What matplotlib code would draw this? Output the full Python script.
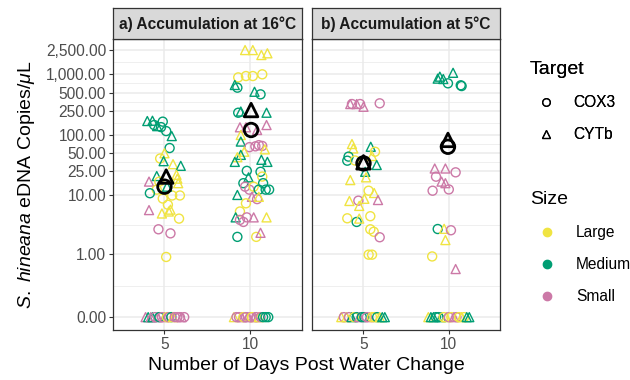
import numpy as np
import matplotlib
matplotlib.use("Agg")
import matplotlib.pyplot as plt
from matplotlib.lines import Line2D
from matplotlib.ticker import FixedLocator, NullLocator

plt.rcParams['font.family'] = ['Liberation Sans', 'DejaVu Sans']
plt.rcParams['mathtext.fontset'] = 'custom'
plt.rcParams['mathtext.rm'] = 'Liberation Sans'
plt.rcParams['mathtext.it'] = 'Liberation Sans:italic'

# ---------------- data ----------------
days = ['5', '10']
panel_titles = ['a) Accumulation at 16°C', 'b) Accumulation at 5°C']
y_breaks = [0, 1, 10, 25, 50, 100, 250, 500, 1000, 2500]
y_labels = ['0.00', '1.00', '10.00', '25.00', '50.00', '100.00', '250.00',
            '500.00', '1,000.00', '2,500.00']
size_colors = {'L': '#F0E442', 'M': '#009E73', 'S': '#CC79A7'}
size_names = ['Large', 'Medium', 'Small']
target_markers = {'C': 'o', 'T': '^'}
target_names = ['COX3', 'CYTb']

# panel a, day 5
a5_value = [170, 172, 140, 146, 166, 135, 116, 96, 61, 50, 41, 37, 33, 31, 22, 19, 16,
            17, 21, 17, 12.5, 10.9, 10, 10, 8.9, 7.0, 5.0, 5.4, 5.8, 4.1, 5.7, 2.7, 2.3, 0.88, 14]
a5_jitter = [-0.20, -0.14, -0.085, -0.12, -0.02, -0.04, 0.02, 0.085, 0.06, 0.0, -0.05, -0.01, 0.10, 0.19, 0.14, 0.15, 0.16,
             -0.18, -0.09, -0.06, -0.09, -0.17, 0.09, 0.18, -0.02, 0.04, -0.03, 0.05, 0.07, 0.17, -0.18, -0.07, 0.07, 0.02, 0.03]
a5_target = ['T', 'T', 'T', 'C', 'C', 'C', 'C', 'T', 'C', 'T', 'C', 'T', 'T', 'T', 'T', 'T', 'T',
             'T', 'T', 'C', 'C', 'C', 'C', 'C', 'C', 'C', 'T', 'T', 'T', 'C', 'T', 'C', 'C', 'C', 'T']
a5_size = ['M', 'M', 'M', 'M', 'M', 'M', 'M', 'M', 'M', 'L', 'L', 'M', 'L', 'M', 'L', 'L', 'L',
           'S', 'M', 'L', 'L', 'M', 'L', 'L', 'L', 'L', 'L', 'L', 'L', 'L', 'S', 'S', 'S', 'L', 'M']
a5_zero_jitter = [-0.22, -0.19, -0.16, -0.14, -0.11, -0.08, -0.06, -0.03, 0.0, 0.03, 0.05, 0.08, 0.10, 0.12, 0.15, 0.18, 0.20, 0.23]
a5_zero_target = ['T', 'T', 'T', 'T', 'C', 'T', 'C', 'C', 'T', 'C', 'C', 'C', 'T', 'C', 'C', 'C', 'T', 'C']
a5_zero_size = ['S', 'M', 'S', 'M', 'S', 'S', 'M', 'S', 'S', 'L', 'S', 'M', 'L', 'S', 'S', 'S', 'S', 'S']

# panel a, day 10
a10_value = [2510, 2510, 2080, 2220, 890, 937, 937, 1000, 667, 603, 516, 468, 233, 244, 233,
             134, 134, 121, 146, 100, 78, 63, 65, 68, 66, 58, 53, 47, 43, 36, 39, 36,
             25.6, 24.7, 20, 20.6, 16, 16, 14, 12.5, 14, 12.5, 12.5, 12.5, 9.5, 8.7, 9.5,
             10.2, 7.4, 5.4, 4.3, 3.9, 3.6, 4.3, 4.3, 4.3, 2.0, 2.0, 2.35]
a10_jitter = [-0.06, 0.03, 0.13, 0.20, -0.14, -0.05, 0.03, 0.14, -0.18, -0.15, 0.05, 0.12, -0.14, -0.11, 0.19,
              -0.12, -0.05, 0.08, 0.19, -0.11, -0.11, -0.01, 0.06, 0.10, 0.14, 0.17, -0.07, -0.11, -0.15, -0.18, 0.13, 0.20,
              -0.04, 0.12, -0.02, 0.14, -0.08, 0.15, -0.06, -0.01, 0.04, 0.10, 0.18, 0.22, 0.02, 0.08, 0.10,
              -0.15, -0.05, -0.12, -0.17, -0.12, -0.08, 0.04, -0.04, 0.19, -0.15, 0.07, 0.12]
a10_target = ['T', 'T', 'T', 'T', 'C', 'C', 'C', 'C', 'T', 'C', 'T', 'C', 'C', 'T', 'T',
              'T', 'T', 'T', 'T', 'T', 'T', 'C', 'C', 'C', 'C', 'T', 'T', 'T', 'T', 'T', 'T', 'T',
              'C', 'C', 'T', 'C', 'C', 'C', 'C', 'C', 'C', 'C', 'C', 'C', 'T', 'C', 'T',
              'T', 'C', 'C', 'T', 'C', 'C', 'T', 'C', 'T', 'C', 'C', 'T']
a10_size = ['L', 'L', 'L', 'L', 'L', 'L', 'L', 'L', 'M', 'M', 'M', 'M', 'M', 'M', 'M',
            'S', 'S', 'S', 'S', 'L', 'M', 'S', 'S', 'S', 'S', 'L', 'L', 'M', 'L', 'M', 'M', 'M',
            'M', 'M', 'M', 'L', 'M', 'M', 'S', 'S', 'L', 'M', 'M', 'M', 'S', 'S', 'L',
            'M', 'L', 'L', 'M', 'S', 'S', 'S', 'S', 'L', 'M', 'L', 'S']
a10_zero_jitter = [-0.19, -0.16, -0.13, -0.10, -0.08, -0.05, -0.03, 0.0, 0.02, 0.05, 0.07, 0.10, 0.12, 0.15, 0.18, 0.21]
a10_zero_target = ['T', 'C', 'C', 'T', 'C', 'C', 'T', 'C', 'C', 'T', 'C', 'T', 'C', 'C', 'C', 'C']
a10_zero_size = ['L', 'S', 'S', 'S', 'L', 'S', 'S', 'S', 'L', 'S', 'S', 'L', 'S', 'M', 'M', 'M']

# panel b, day 5
b5_value = [324, 324, 324, 324, 292, 333, 71, 60, 64, 53, 44, 37.7, 38, 45, 32, 24.7, 18, 20,
            12, 11, 8.1, 8.2, 8.8, 8.4, 6.7, 4.15, 3.6, 4.1, 4.5, 2.7, 2.45, 1.97, 0.97, 0.97]
b5_jitter = [-0.155, -0.135, -0.08, -0.04, 0.0, 0.19, -0.135, -0.12, 0.085, 0.135, -0.175, -0.19, -0.10, 0.10, 0.155, 0.02, -0.155, 0.03,
             0.06, 0.125, -0.165, -0.06, 0.01, 0.17, -0.05, -0.19, -0.08, -0.05, 0.08, 0.08, 0.12, 0.19, 0.06, 0.10]
b5_target = ['T', 'C', 'T', 'C', 'T', 'C', 'T', 'T', 'T', 'C', 'C', 'C', 'C', 'T', 'T', 'T', 'T', 'T',
             'C', 'T', 'T', 'C', 'T', 'T', 'T', 'C', 'C', 'T', 'C', 'C', 'C', 'C', 'C', 'C']
b5_size = ['S', 'S', 'S', 'S', 'S', 'S', 'L', 'L', 'M', 'L', 'M', 'M', 'L', 'L', 'M', 'M', 'L', 'L',
           'L', 'L', 'L', 'S', 'L', 'S', 'L', 'L', 'M', 'L', 'L', 'L', 'L', 'S', 'L', 'L']
b5_zero_jitter = [-0.26, -0.23, -0.20, -0.17, -0.14, -0.11, -0.08, -0.05, -0.02, 0.01, 0.04, 0.07, 0.10, 0.13, 0.16, 0.19, 0.22, 0.25]
b5_zero_target = ['T', 'C', 'T', 'C', 'T', 'C', 'C', 'T', 'C', 'C', 'C', 'T', 'C', 'C', 'C', 'T', 'T', 'T']
b5_zero_size = ['L', 'S', 'L', 'S', 'M', 'L', 'M', 'S', 'M', 'M', 'S', 'S', 'L', 'L', 'M', 'L', 'M', 'M']

# panel b, day 10
b10_value = [915, 837, 1060, 711, 641, 660, 850, 28, 28, 24.2, 20.5, 17, 16, 12, 12.6,
             2.73, 2.75, 2.6, 1.76, 0.9, 0.52]
b10_jitter = [-0.105, -0.065, 0.05, -0.01, 0.15, 0.14, -0.13, -0.165, -0.04, 0.08, -0.15, -0.085, -0.04, -0.19, 0.0,
              -0.13, -0.055, 0.025, -0.04, -0.195, 0.08]
b10_target = ['T', 'T', 'T', 'C', 'C', 'C', 'T', 'T', 'T', 'C', 'C', 'T', 'T', 'C', 'C',
              'C', 'T', 'C', 'T', 'C', 'T']
b10_size = ['M', 'M', 'M', 'M', 'M', 'M', 'M', 'S', 'S', 'S', 'S', 'S', 'S', 'S', 'S',
            'M', 'L', 'S', 'L', 'L', 'S']
b10_zero_jitter = [-0.24, -0.21, -0.18, -0.15, -0.12, -0.09, -0.06, -0.03, 0.0, 0.03, 0.06, 0.09, 0.12, 0.15, 0.18, 0.21, 0.24]
b10_zero_target = ['T', 'T', 'T', 'C', 'C', 'T', 'C', 'T', 'C', 'C', 'T', 'C', 'C', 'T', 'C', 'T', 'T']
b10_zero_size = ['L', 'M', 'M', 'M', 'M', 'M', 'L', 'L', 'S', 'L', 'S', 'S', 'L', 'L', 'L', 'M', 'M']

# group means (black markers): [day] -> (COX3, CYTb)
mean_a = [(14, 20.6), (121, 258)]
mean_b = [(34, 35.4), (64, 83)]
mean_jitter_a = [(0.0, 0.02), (0.01, 0.01)]
mean_jitter_b = [(0.0, 0.0), (-0.01, -0.01)]

# ---------------- scale ----------------
OFF = 0.1
def fwd(v):
    v = np.asarray(v, dtype=float)
    return np.log10(np.clip(v + OFF, 1e-6, None))
def inv(t):
    return 10 ** np.asarray(t, dtype=float) - OFF

tb = fwd(np.array(y_breaks, dtype=float))
tmid = (tb[:-1] + tb[1:]) / 2
minor_vals = list(inv(tmid))

# ---------------- figure ----------------
W, H = 630, 380
fig = plt.figure(figsize=(W / 100, H / 100), dpi=100)

def fr(x0, y0, x1, y1):
    return [x0 / W, 1 - y1 / H, (x1 - x0) / W, (y1 - y0) / H]

ax_a = fig.add_axes(fr(113, 39, 301.7, 330))
ax_b = fig.add_axes(fr(312.3, 39, 500, 330))
st_a = fig.add_axes(fr(113, 8.3, 301.7, 39))
st_b = fig.add_axes(fr(312.3, 8.3, 500, 39))

border = '#333333'
gridc = '#EBEBEB'
tickc = '#4D4D4D'

groups = {
    'a': [(a5_value, a5_jitter, a5_target, a5_size, a5_zero_jitter, a5_zero_target, a5_zero_size),
          (a10_value, a10_jitter, a10_target, a10_size, a10_zero_jitter, a10_zero_target, a10_zero_size)],
    'b': [(b5_value, b5_jitter, b5_target, b5_size, b5_zero_jitter, b5_zero_target, b5_zero_size),
          (b10_value, b10_jitter, b10_target, b10_size, b10_zero_jitter, b10_zero_target, b10_zero_size)],
}
means = {'a': (mean_a, mean_jitter_a), 'b': (mean_b, mean_jitter_b)}

for key, ax, st, title in [('a', ax_a, st_a, panel_titles[0]), ('b', ax_b, st_b, panel_titles[1])]:
    ax.set_yscale('function', functions=(fwd, inv))
    ax.set_ylim(-0.0386, 3820)
    ax.set_xlim(0.4, 2.6)
    ax.yaxis.set_major_locator(FixedLocator(y_breaks))
    ax.yaxis.set_minor_locator(FixedLocator(minor_vals))
    ax.set_xticks([1, 2])
    ax.set_xticklabels(days)
    ax.xaxis.set_minor_locator(NullLocator())
    ax.set_axisbelow(True)
    ax.grid(True, which='major', color=gridc, lw=1.1)
    ax.grid(True, which='minor', axis='y', color=gridc, lw=0.55)
    for sp in ax.spines.values():
        sp.set_color(border)
        sp.set_linewidth(0.9)
    ax.tick_params(axis='both', which='major', length=3, width=0.8, color=border,
                   labelsize=11.2, labelcolor=tickc, pad=2)
    ax.tick_params(axis='y', which='minor', length=0)
    if key == 'a':
        ax.set_yticklabels(y_labels)
    else:
        ax.tick_params(axis='y', which='major', length=0, labelleft=False)

    for di, grp in enumerate(groups[key]):
        vals, jit, tg, sz, zj, zt, zs = grp
        xs = [di + 1 + j for j in jit] + [di + 1 + j for j in zj]
        ys = list(vals) + [0.0] * len(zj)
        tgs = list(tg) + list(zt)
        szs = list(sz) + list(zs)
        for x, y, t, s in zip(xs, ys, tgs, szs):
            ax.scatter([x], [y], marker=target_markers[t], s=42, facecolors='none',
                       edgecolors=size_colors[s], linewidths=1.0, zorder=3)
        mv, mj = means[key]
        for ti, t in enumerate(['C', 'T']):
            ax.scatter([di + 1 + mj[di][ti]], [mv[di][ti]], marker=target_markers[t], s=95,
                       facecolors='none', edgecolors='black', linewidths=2.0, zorder=4)

    st.set_facecolor('#D9D9D9')
    st.set_xticks([])
    st.set_yticks([])
    for sp in st.spines.values():
        sp.set_color(border)
        sp.set_linewidth(0.9)
    st.text(0.5, 0.47, title, ha='center', va='center', fontsize=11.2,
            fontweight='bold', color='#1A1A1A', transform=st.transAxes)

ax_a.set_ylabel(r'$\mathit{S.\ hineana}$ eDNA Copies/$\mu$L', fontsize=14, color='black', labelpad=6)
fig.text(306.5 / W, 1 - 366 / H, 'Number of Days Post Water Change', ha='center', va='center',
         fontsize=14, color='black')

# ---------------- legends ----------------
t_handles = [Line2D([], [], ls='none', marker=target_markers[k], markersize=5.5, markerfacecolor='none',
                    markeredgecolor='black', markeredgewidth=0.9) for k in ['C', 'T']]
s_handles = [Line2D([], [], ls='none', marker='o', markersize=6, markerfacecolor=size_colors[k],
                    markeredgecolor=size_colors[k]) for k in ['L', 'M', 'S']]
leg1 = fig.legend(t_handles, target_names, title='Target', loc='upper left',
                  bbox_to_anchor=(530 / W, 1 - 61 / H), frameon=False, fontsize=11.2,
                  title_fontsize=14, handlelength=2.0, handletextpad=0.75, labelspacing=1.1,
                  borderpad=0, borderaxespad=0, alignment='left')
leg2 = fig.legend(s_handles, size_names, title='Size', loc='upper left',
                  bbox_to_anchor=(530 / W, 1 - 191 / H), frameon=False, fontsize=11.2,
                  title_fontsize=14, handlelength=2.2, handletextpad=0.75, labelspacing=1.1,
                  borderpad=0, borderaxespad=0, alignment='left')
fig.add_artist(leg1)

fig.savefig('out.png', dpi=100)
